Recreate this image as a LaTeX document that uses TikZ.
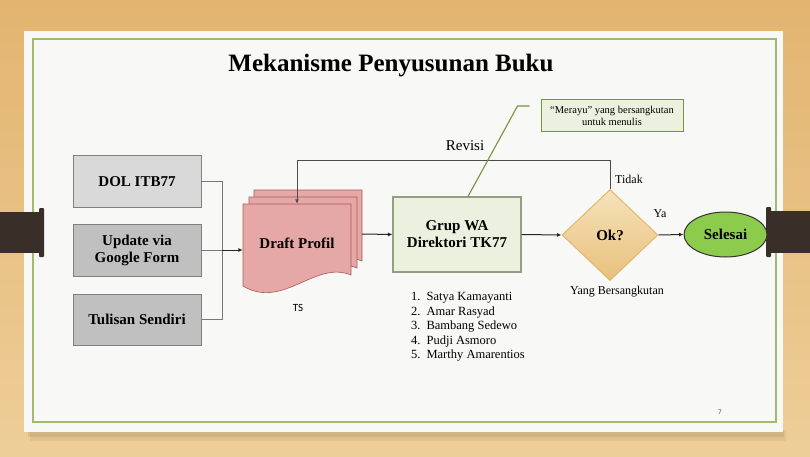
\documentclass[tikz,border=0pt]{standalone}
\usepackage{fontspec}
\setmainfont{Liberation Serif}
\newfontfamily\tsfont{Carlito}
\usetikzlibrary{calc, positioning, arrows.meta, shapes.geometric}

\definecolor{woodTop}{RGB}{226,180,112}
\definecolor{woodBot}{RGB}{238,206,152}
\definecolor{slideBg}{RGB}{248,248,246}
\definecolor{frameGreen}{RGB}{160,186,110}
\definecolor{clipBrown}{RGB}{58,46,41}
\definecolor{boxEdge}{RGB}{128,128,128}
\definecolor{srcLight}{RGB}{217,217,217}
\definecolor{srcDark}{RGB}{192,192,192}
\definecolor{draftFill}{RGB}{229,168,166}
\definecolor{draftEdge}{RGB}{170,90,88}
\definecolor{waFill}{RGB}{235,241,222}
\definecolor{waEdge}{RGB}{150,158,130}
\definecolor{okTop}{RGB}{246,226,186}
\definecolor{okBot}{RGB}{232,192,124}
\definecolor{okEdge}{RGB}{226,184,108}
\definecolor{finFill}{RGB}{141,203,76}
\definecolor{noteEdge}{RGB}{119,147,60}
\definecolor{connGray}{RGB}{120,120,120}

\def\fsTitle{\fontsize{25}{28}\selectfont}
\def\fsBox{\fontsize{15}{17}\selectfont}
\def\fsLbl{\fontsize{12}{14}\selectfont}
\def\fsList{\fontsize{12.5}{14.5}\selectfont}
\def\fsNote{\fontsize{10.5}{12.5}\selectfont}

\tikzset{
  mkfig/.style={x=1pt, y=-1pt, line join=miter},
  srcBox/.style={draw=boxEdge, line width=1pt, minimum width=128,
    minimum height=51, inner sep=2pt, align=center, font=\fsBox\bfseries},
  draftPg/.style={fill=draftFill, draw=draftEdge, line width=0.6pt},
  waBox/.style={fill=waFill, draw=waEdge, line width=1.1pt, minimum width=128,
    minimum height=75, align=center, font=\fsBox\bfseries},
  okDia/.style={diamond, top color=okTop, bottom color=okBot, draw=okEdge,
    line width=1pt, minimum width=96, minimum height=91, inner sep=0pt,
    font=\fsBox\bfseries},
  finEll/.style={ellipse, fill=finFill, draw=black!80, line width=1pt,
    minimum width=83, minimum height=45, inner sep=0pt, font=\fsBox\bfseries},
  noteBox/.style={fill=waFill, draw=noteEdge, line width=1pt, minimum width=142,
    minimum height=32, align=center, font=\fsNote},
  conn/.style={draw=connGray, line width=1pt},
  arr/.style={-{Latex[length=4.5pt, width=4pt]}, line width=1pt, draw=black!85},
  lbl/.style={font=\fsLbl, inner sep=0pt, anchor=base},
}

% one page of the draft stack, top-left corner at #1,#2
\newcommand{\draftPage}[2]{%
  \begin{scope}[shift={(#1,#2)}]
    \draw[draftPg] (0,0) -- (108,0) -- (108,71)
      .. controls (72,56) and (40,106) .. (0,82) -- cycle;
  \end{scope}}

\begin{document}
\begin{tikzpicture}[mkfig]
  \useasboundingbox (0,0) rectangle (810,457);

  % ----- wooden desk and slide -----
  \shade[top color=woodTop, bottom color=woodBot] (0,0) rectangle (810,457);
  \fill[black, opacity=0.05] (30,430) rectangle (786,441);
  \fill[black, opacity=0.07] (28,430) rectangle (784,437);
  \fill[slideBg] (24,31) rectangle (783,432);
  \draw[frameGreen, line width=1.6pt] (33,39) rectangle (776,422);

  % binder clips
  \fill[clipBrown] (0,212) rectangle (42,253);
  \fill[clipBrown, rounded corners=1pt] (39,208) rectangle (44,257);
  \fill[clipBrown] (768,211) rectangle (810,253);
  \fill[clipBrown, rounded corners=1pt] (766,207) rectangle (771,257);

  % ----- title -----
  \node[font=\fsTitle\bfseries, inner sep=0pt, anchor=base] (title) at (391,72)
    {Mekanisme Penyusunan Buku};

  % ----- sources -----
  \node[srcBox, fill=srcLight] (dol) at (137,181.5) {DOL ITB77};
  \node[srcBox, fill=srcDark, minimum height=52] (upd) at (137,250)
    {Update via\\Google Form};
  \node[srcBox, fill=srcDark] (tulis) at (137,319.5) {Tulisan Sendiri};

  % ----- draft stack -----
  \draftPage{254}{190}
  \draftPage{249}{197}
  \draftPage{243}{204}
  \node[minimum width=108, minimum height=82, inner sep=0pt,
    font=\fsBox\bfseries] (draft) at (297,245) {\raisebox{4pt}{Draft Profil}};
  \node[font=\tsfont\fontsize{11}{13}\selectfont, inner sep=0pt, anchor=base]
    (ts) at (298,311) {TS};

  % ----- review, decision, end -----
  \node[waBox] (grup) at (457,234.5) {Grup WA\\Direktori TK77};
  \node[okDia] (ok) at (610,235) {Ok?};
  \node[finEll] (fin) at (725.5,234.5) {Selesai};

  \node[noteBox] (note) at (612,116)
    {``Merayu'' yang bersangkutan\\untuk menulis};

  % ----- connectors -----
  \coordinate (join) at (222,250);
  \coordinate (draftR) at (362,234);
  \coordinate (revCorner) at (297,161);
  \draw[conn] (dol.east) -| (join);
  \draw[conn] (tulis.east) -| (join);
  \draw[conn] (upd.east) -- (join);
  \draw[arr] (join) -- (join -| draft.west);
  \draw[arr] (draftR) -- (grup.west);
  \draw[arr] (grup.east) -- (ok.west);
  \draw[arr] (ok.east) -- (fin.west);
  \draw[arr, draw=black!70] (ok.north) |- (revCorner) -- (draft.north);

  % callout leader
  \draw[noteEdge, line width=1.1pt] ($(note.west)+(-11,-10)$) -- ++(-12,0)
    -- ($(grup.north)+(11,0)$);

  % ----- labels -----
  \node[lbl, font=\fontsize{15}{17}\selectfont] (revisi) at (465,150) {Revisi};
  \node[lbl] (tidak) at (629,183) {Tidak};
  \node[lbl] (ya) at (660,217) {Ya};
  \node[lbl] (pic) at (617,294) {Yang Bersangkutan};

  \node[anchor=north west, inner sep=0pt, font=\fsList] (names) at (411,290.5) {%
    \begin{tabular}{@{}l@{\hspace{6pt}}l@{}}
      1. & Satya Kamayanti\\
      2. & Amar Rasyad\\
      3. & Bambang Sedewo\\
      4. & Pudji Asmoro\\
      5. & Marthy Amarentios
    \end{tabular}};

  \node[font=\tsfont\fontsize{7}{8}\selectfont, text=black!70, inner sep=0pt]
    (pgno) at (720,412) {7};
\end{tikzpicture}
\end{document}
